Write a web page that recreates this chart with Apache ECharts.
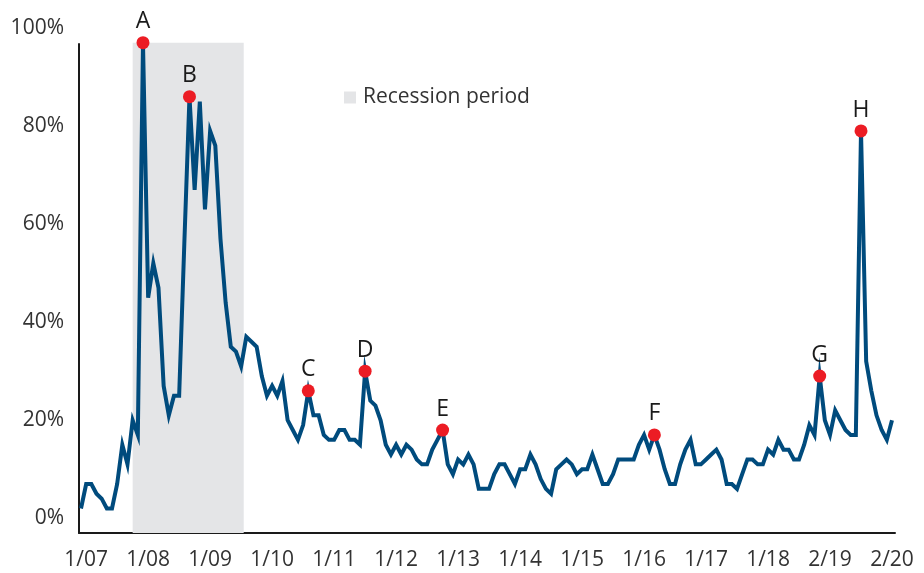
<!DOCTYPE html>
<html>
<head>
<meta charset="utf-8">
<script src="https://cdn.jsdelivr.net/npm/echarts@6/dist/echarts.min.js"></script>
<style>
    html, body { margin: 0; padding: 0; background: #fff; }
    #chart { width: 924px; height: 573px; }
</style>
</head>
<body>
<div id="chart"></div>
<script>
    // monthly readings, first point is the month before 1/07
    var values = [
        2, 7, 7, 5, 4, 2, 2, 7, 15, 11, 20, 17,
        97, 45, 52, 47, 27, 21, 25, 25, 56, 86, 67, 85,
        63, 79, 76, 57, 44, 35, 34, 31, 37, 36, 35, 29,
        25, 27, 25, 28, 20, 18, 16, 19, 26, 21, 21, 17,
        16, 16, 18, 18, 16, 16, 15, 30, 24, 23, 20, 15,
        13, 15, 13, 15, 14, 12, 11, 11, 14, 16, 18, 11,
        9, 12, 11, 13, 11, 6, 6, 6, 9, 11, 11, 9,
        7, 10, 10, 13, 11, 8, 6, 5, 10, 11, 12, 11,
        9, 10, 10, 13, 10, 7, 7, 9, 12, 12, 12, 12,
        15, 17, 14, 17, 14, 10, 7, 7, 11, 14, 16, 11,
        11, 12, 13, 14, 12, 7, 7, 6, 9, 12, 12, 11,
        11, 14, 13, 16, 14, 14, 12, 12, 15, 19, 17, 29,
        20, 17, 22, 20, 18, 17, 17, 79, 32, 26, 21, 18,
        16, 20
    ]
    var tickLabels = ['1/07', '1/08', '1/09', '1/10', '1/11', '1/12', '1/13',
        '1/14', '1/15', '1/16', '1/17', '1/18', '2/19', '2/20']
    var tickIndex = tickLabels.map(function (t, k) { return 1 + k * 12 })
    var yTicks = [0, 20, 40, 60, 80, 100]

    var peakIndex = [12, 21, 44, 55, 70, 111, 143, 151]
    var peakLetters = ['A', 'B', 'C', 'D', 'E', 'F', 'G', 'H']

    var recession = [10, 31.5]   // x range in month index

    var font = 'Open Sans'
    var textColor = '#333333'

    var option = {
        animation: false,
        textStyle: { fontFamily: font },
        legend: {
            data: ['Recession period'],
            left: 339,
            top: 82,
            icon: 'rect',
            itemWidth: 12,
            itemHeight: 12,
            itemGap: 8,
            textStyle: { fontSize: 21, color: textColor, fontFamily: font, padding: [0, 0, 0, 2] }
        },
        grid: [
            { left: 81, right: 32, top: 28, bottom: 40 },
            { left: 79, right: 29, top: 44, bottom: 40 }
        ],
        xAxis: [{
            type: 'value',
            gridIndex: 0,
            min: 0,
            max: values.length - 1,
            axisLine: { show: false },
            axisTick: { show: false },
            splitLine: { show: false },
            axisLabel: {
                customValues: tickIndex,
                formatter: function (v) { return tickLabels[(v - 1) / 12] },
                fontSize: 21,
                color: textColor,
                fontFamily: font,
                margin: 17
            }
        }, {
            // frame line only
            type: 'value',
            gridIndex: 1,
            min: 0,
            max: 1,
            axisLine: { show: true, lineStyle: { color: '#1a1a1a', width: 2 } },
            axisTick: { show: false },
            axisLabel: { show: false },
            splitLine: { show: false }
        }],
        yAxis: [{
            type: 'value',
            gridIndex: 0,
            min: -3,
            max: 100,
            axisLine: { show: false },
            axisTick: { show: false },
            splitLine: { show: false },
            axisLabel: {
                customValues: yTicks,
                formatter: '{value}%',
                fontSize: 21,
                color: textColor,
                fontFamily: font,
                margin: 17
            }
        }, {
            type: 'value',
            gridIndex: 1,
            min: 0,
            max: 1,
            axisLine: { show: true, lineStyle: { color: '#1a1a1a', width: 2 } },
            axisTick: { show: false },
            axisLabel: { show: false },
            splitLine: { show: false }
        }],
        series: [
            {
                name: 'Recession period',
                type: 'line',
                xAxisIndex: 0,
                yAxisIndex: 0,
                color: '#e4e5e7',
                data: [],
                z: 1,
                markArea: {
                    silent: true,
                    itemStyle: { color: '#e4e5e7' },
                    data: [[
                        { xAxis: recession[0], yAxis: 97 },
                        { xAxis: recession[1], yAxis: -3 }
                    ]]
                }
            },
            {
                name: 'Share',
                type: 'line',
                xAxisIndex: 0,
                yAxisIndex: 0,
                showSymbol: false,
                z: 3,
                lineStyle: { color: '#004b7d', width: 4, join: 'miter' },
                itemStyle: { color: '#004b7d' },
                data: values.map(function (v, i) { return [i, v] }),
                markPoint: {
                    symbol: 'circle',
                    symbolSize: 13,
                    itemStyle: { color: '#ec1c24' },
                    label: {
                        show: true,
                        position: 'top',
                        distance: 3,
                        formatter: '{b}',
                        fontSize: 23,
                        color: '#1a1a1a',
                        fontFamily: font
                    },
                    data: peakIndex.map(function (i, k) {
                        return { name: peakLetters[k], coord: [i, values[i]] }
                    })
                }
            }
        ]
    }

    var myChart = echarts.init(document.getElementById('chart'))
    myChart.setOption(option)
</script>
</body>
</html>
